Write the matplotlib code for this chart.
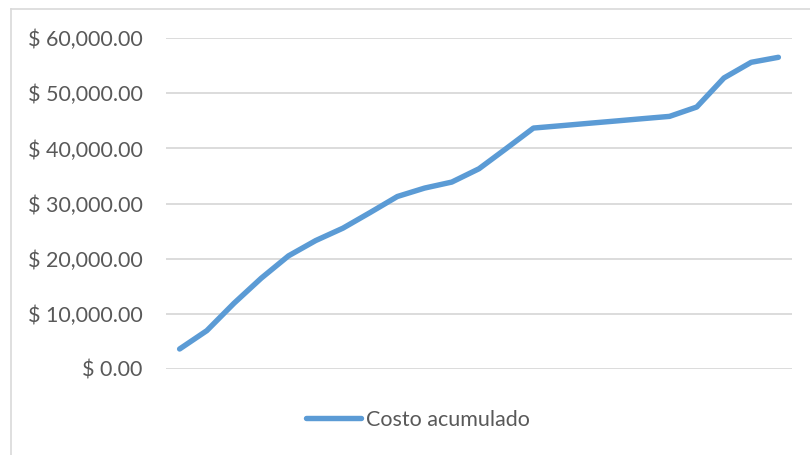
import matplotlib.pyplot as plt
from matplotlib.lines import Line2D
from matplotlib.ticker import FuncFormatter

# cumulative cost per period
periodos = list(range(1, 24))
costo_acumulado = [3580, 6910, 11890, 16440, 20490, 23270, 25520, 28360, 31270,
                   32800, 33890, 36310, 39980, 43700, 44120, 44550, 44970, 45400,
                   45820, 47520, 52800, 55640, 56550]
serie = 'Costo acumulado'

plt.rcParams['font.family'] = ['Lato', 'DejaVu Sans']

fig = plt.figure(figsize=(8.10, 4.55), dpi=100)
ax = fig.add_axes([166 / 810, 1 - 368.7 / 455, (792 - 166) / 810, (368.7 - 38.3) / 455])

ax.plot(range(len(periodos)), costo_acumulado, color='#5b9bd5', lw=3.9,
        solid_capstyle='round', solid_joinstyle='round', label=serie, zorder=3)

ax.set_xlim(-0.5, len(periodos) - 0.5)
ax.set_ylim(0, 60000)
ax.set_yticks(range(0, 60001, 10000))
ax.yaxis.set_major_formatter(FuncFormatter(lambda v, p: f'$ {v:,.2f}'))
ax.set_xticks([])
ax.tick_params(axis='y', length=0, pad=17, labelsize=15.5, labelcolor='#595959')
ax.grid(axis='y', color='#d9d9d9', lw=1.3)
ax.set_axisbelow(True)
for s in ax.spines.values():
    s.set_visible(False)

handle = Line2D([], [], color='#5b9bd5', lw=3.9, solid_capstyle='round')
fig.legend([handle], [serie], loc='center', bbox_to_anchor=(418 / 810, 1 - 420 / 455),
           frameon=False, fontsize=15.5, labelcolor='#595959', handlelength=2.55,
           handletextpad=0.2)

# chart border (top and left edges)
fig.add_artist(Line2D([11 / 810, 11 / 810], [0, 1 - 9 / 455], color='#d9d9d9', lw=1.2,
                      transform=fig.transFigure))
fig.add_artist(Line2D([11 / 810, 1], [1 - 9 / 455, 1 - 9 / 455], color='#d9d9d9', lw=1.2,
                      transform=fig.transFigure))

fig.savefig('out.png', dpi=100)
